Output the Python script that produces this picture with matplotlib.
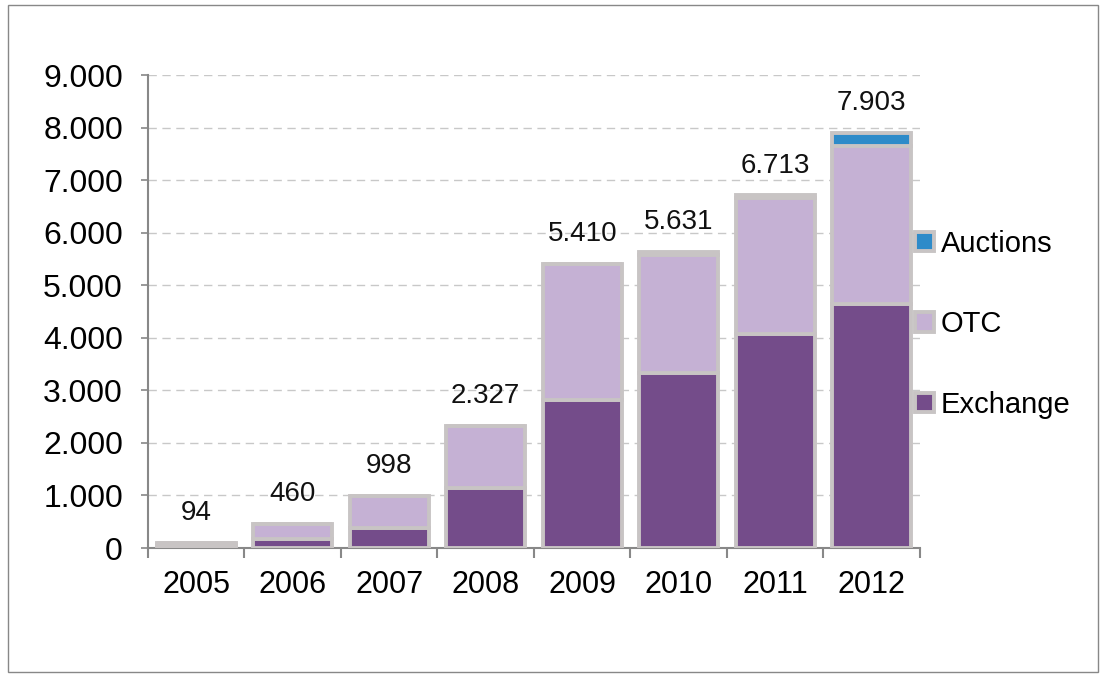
import matplotlib
matplotlib.use("Agg")
import matplotlib.pyplot as plt
import numpy as np
from matplotlib.patches import Rectangle

plt.rcParams['font.family'] = ['Liberation Sans', 'DejaVu Sans']

years = ["2005", "2006", "2007", "2008", "2009", "2010", "2011", "2012"]
exchange = [55, 170, 390, 1150, 2816, 3330, 4070, 4640]
otc = [39, 290, 608, 1177, 2594, 2241, 2590, 3013]
auctions = [0, 0, 0, 0, 0, 60, 53, 250]
totals = [94, 460, 998, 2327, 5410, 5631, 6713, 7903]
total_labels = ["94", "460", "998", "2.327", "5.410", "5.631", "6.713", "7.903"]
yticks = [0, 1000, 2000, 3000, 4000, 5000, 6000, 7000, 8000, 9000]
ytick_labels = ["0", "1.000", "2.000", "3.000", "4.000", "5.000", "6.000", "7.000", "8.000", "9.000"]

c_exch = "#744c8a"
c_otc = "#c5b1d4"
c_auc = "#2e8bc9"
edge = "#c8c4c4"

fig = plt.figure(figsize=(11.06, 6.76), dpi=100)
ax = fig.add_axes([0.1338, 0.1893, 0.698, 0.6997])

x = np.arange(len(years))
w = 0.82
ex = np.array(exchange, float)
ot = np.array(otc, float)
au = np.array(auctions, float)
ax.bar(x, ex, w, color=c_exch, edgecolor=edge, linewidth=2.8, label="Exchange", zorder=3)
ax.bar(x, ot, w, bottom=ex, color=c_otc, edgecolor=edge, linewidth=2.8, label="OTC", zorder=3)
ax.bar(x, au, w, bottom=ex + ot, color=c_auc, edgecolor=edge, linewidth=2.8, label="Auctions", zorder=3)

for xi, t, lab in zip(x, totals, total_labels):
    ax.annotate(lab, (xi, t), xytext=(0, 12), textcoords="offset points",
                ha="center", va="bottom", fontsize=20, color="#111111")

ax.set_xlim(-0.5, len(years) - 0.5)
ax.set_ylim(0, 9000)
ax.set_yticks(yticks)
ax.set_yticklabels(ytick_labels, fontsize=23)
ax.set_xticks(np.arange(-0.5, len(years), 1.0))
ax.set_xticklabels([])
ax.set_xticks(x, minor=True)
ax.set_xticklabels(years, minor=True, fontsize=22)
ax.tick_params(axis="x", which="minor", length=0, pad=16)
ax.tick_params(axis="x", which="major", length=7, width=1.5, color="#888888", direction="out")
ax.tick_params(axis="y", length=5, width=1.2, color="#888888", direction="out", pad=13)

ax.yaxis.grid(True, linestyle=(0, (6, 4)), color="#c8c8c8", linewidth=1, zorder=0)
ax.set_axisbelow(True)
for s in ["top", "right"]:
    ax.spines[s].set_visible(False)
for s in ["left", "bottom"]:
    ax.spines[s].set_color("#888888")
    ax.spines[s].set_linewidth(1.5)

h, l = ax.get_legend_handles_labels()
leg = fig.legend(h[::-1], l[::-1], loc="upper left", bbox_to_anchor=(0.827, 0.66),
                 frameon=False, fontsize=21, handlelength=0.65, handleheight=0.65,
                 handletextpad=0.25, labelspacing=1.8, borderpad=0, borderaxespad=0)

fig.add_artist(Rectangle((0.007, 0.006), 0.986, 0.986, transform=fig.transFigure,
                         fill=False, edgecolor="#888888", linewidth=1))

fig.savefig("out.png", dpi=100)
